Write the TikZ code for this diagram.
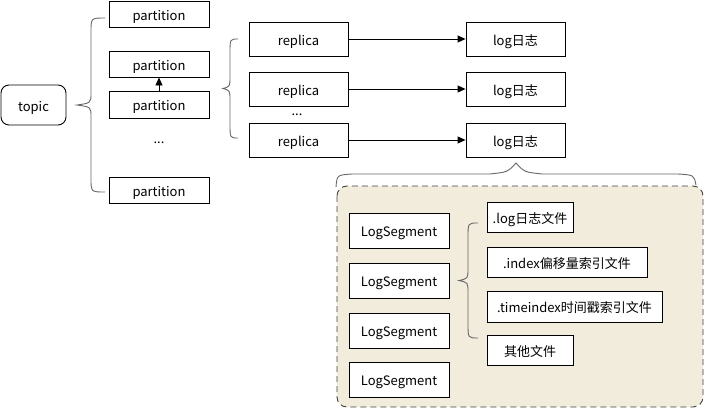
\documentclass[tikz,border=0pt]{standalone}
\usepackage{fontspec}
\setmainfont{Noto Sans CJK SC}
\usetikzlibrary{arrows.meta}
\definecolor{beige}{HTML}{F2ECDC}
\definecolor{bracegray}{HTML}{666666}
\tikzset{
  box/.style={draw=black, line width=0.9pt, fill=white, inner sep=0pt, font=\fontsize{13}{15}\selectfont, text=black, text height=15pt, text depth=3pt},
  brace/.style={draw=bracegray, line width=0.9pt},
  conn/.style={draw=black, line width=0.9pt, -{Triangle[length=8pt,width=7pt]}},
  dots/.style={font=\fontsize{13}{15}\selectfont, inner sep=0pt}
}
\newcommand{\vbrace}[5]{% end x, y1, y2, spine x, tip x ; mid = (y1+y2)/2
  \draw[brace] (#1,#2) .. controls (#4,#2) .. (#4,#2+14) -- (#4,{(#2+#3)/2-12}) .. controls (#4,{(#2+#3)/2-2}) .. (#5,{(#2+#3)/2}) .. controls (#4,{(#2+#3)/2+2}) .. (#4,{(#2+#3)/2+12}) -- (#4,#3-14) .. controls (#4,#3) .. (#1,#3);
}
\begin{document}
\begin{tikzpicture}[x=1pt,y=-1pt]
\useasboundingbox (0,0) rectangle (705,408);
% container
\draw[fill=beige, draw=black!75, line width=0.9pt, dash pattern=on 6pt off 4pt, rounded corners=10pt] (337,186) rectangle (703,407);
% top brace
\draw[brace] (336,187) .. controls (337,175) .. (352,174) -- (490,174) .. controls (508,172) .. (516,163) .. controls (524,172) .. (542,174) -- (678,174) .. controls (694,175) .. (696,185);
% left column
\node[box, rounded corners=8pt, minimum width=65pt, minimum height=40pt] (topic) at (33.5,105) {topic};
\node[box, minimum width=100pt, minimum height=26pt] (p1) at (159,14) {partition};
\node[box, minimum width=100pt, minimum height=26pt] (p2) at (159,64) {partition};
\node[box, minimum width=100pt, minimum height=27pt] (p3) at (159,104.5) {partition};
\node[dots] (d1) at (159,143) {...};
\node[box, minimum width=100pt, minimum height=26pt] (p4) at (159,190) {partition};
\draw[conn] (p3.north) -- (p2.south);
\vbrace{105}{18}{192}{91}{77}
% replicas
\foreach \i/\y in {1/39,2/89,3/140}{
  \node[box, minimum width=99pt, minimum height=34pt] (r\i) at (298.5,\y) {replica};
  \node[box, minimum width=99pt, minimum height=34pt] (l\i) at (515.5,\y) {log日志};
  \draw[conn] (r\i.east) -- (l\i.west);
}
\node[dots] (d2) at (297,115) {...};
\vbrace{238}{39}{138}{230}{223}
% log segments
\foreach \i/\y in {1/230.5,2/280.5,3/330.5,4/379.5}{
  \node[box, minimum width=100pt, minimum height=35pt] (s\i) at (399,\y) {LogSegment};
}
\node[box, minimum width=86pt, minimum height=30pt] (f1) at (530,217) {.log日志文件};
\node[box, minimum width=160pt, minimum height=30pt] (f2) at (567,262) {.index偏移量索引文件};
\node[box, minimum width=175pt, minimum height=31pt] (f3) at (574.5,306.5) {.timeindex时间戳索引文件};
\node[box, minimum width=86pt, minimum height=30pt] (f4) at (530,350) {其他文件};
\vbrace{478}{223}{338}{468}{459}
\end{tikzpicture}
\end{document}
